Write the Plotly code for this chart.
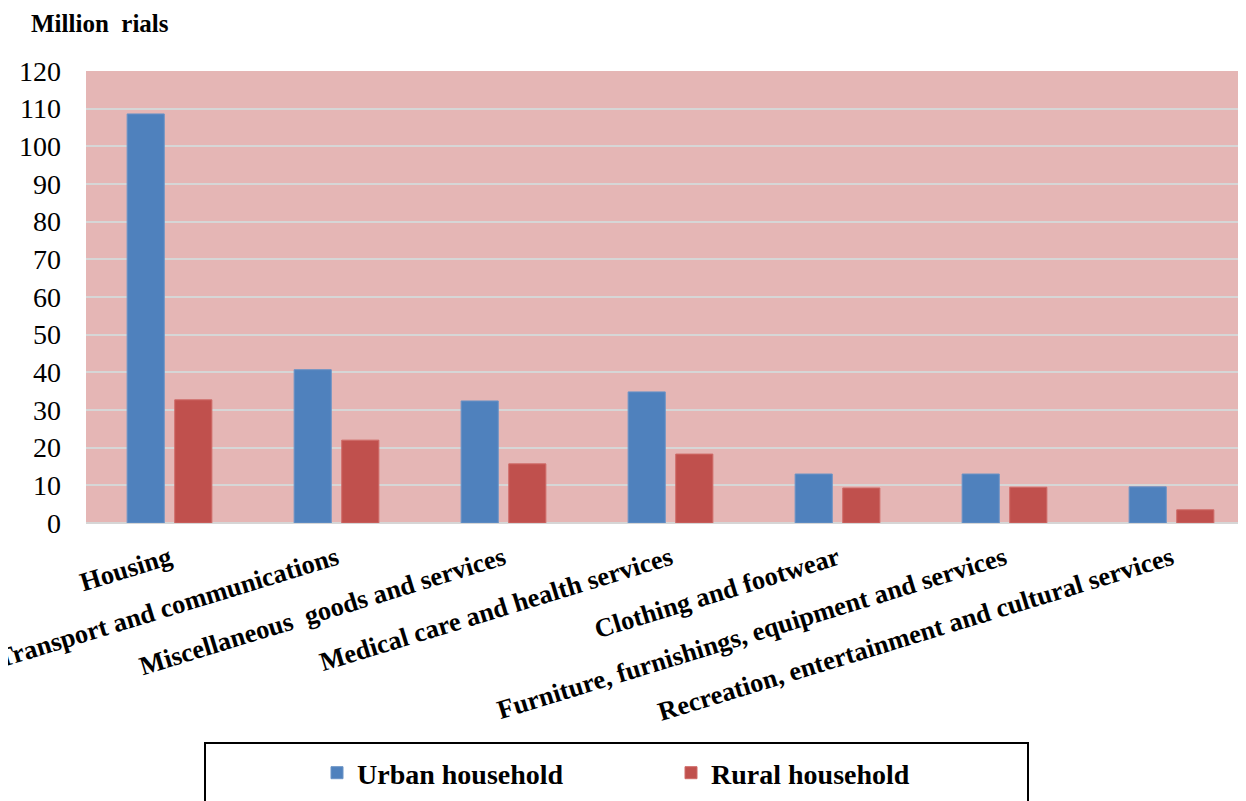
import plotly.graph_objects as go

categories = [
    "Housing",
    "Transport and communications",
    "Miscellaneous  goods and services",
    "Medical care and health services",
    "Clothing and footwear",
    "Furniture, furnishings, equipment and services",
    "Recreation, entertainment and cultural services",
]
urban = [108.6, 40.7, 32.4, 34.8, 13.0, 13.0, 9.6]
rural = [32.7, 22.0, 15.7, 18.3, 9.3, 9.5, 3.5]
series_names = ["Urban household", "Rural household"]
y_ticks = list(range(0, 121, 10))

# page has an 8px body margin; screen coords below
OFF = 8
W, H = 1246 - OFF, 801 - OFF
PL, PR, PT, PB = 86, 1246, 71, 523          # plot edges on screen
ML, MT = PL - OFF, PT - OFF
MR = W - (PR - OFF)
MB = H - (PB - OFF)
PW = PR - PL
PH = PB - PT

def px_x(p):
    return (p - PL) / PW

def px_y(p):
    return (PB - p) / PH

FONT = "Liberation Serif, Times New Roman, serif"

fig = go.Figure()
fig.add_trace(go.Bar(x=categories, y=urban, name=series_names[0],
                     marker=dict(color="#4F81BD", line=dict(width=1, color="#6B93C6"))))
fig.add_trace(go.Bar(x=categories, y=rural, name=series_names[1],
                     marker=dict(color="#C0504D", line=dict(width=1, color="#CF6B68"))))

fig.update_layout(
    width=W, height=H,
    margin=dict(l=ML, r=MR, t=MT, b=MB, autoexpand=False),
    template="none",
    paper_bgcolor="white",
    plot_bgcolor="#E5B6B5",
    barmode="group",
    bargap=0.43,
    bargroupgap=0.22,
    font=dict(family=FONT, color="black"),
    showlegend=True,
    legend=dict(
        orientation="h",
        x=px_x(317), xanchor="left",
        y=px_y(773), yanchor="middle",
        font=dict(family=FONT, size=28, color="black", weight="bold"),
        entrywidth=309,
        bgcolor="rgba(0,0,0,0)",
        borderwidth=0,
        traceorder="normal",
    ),
    xaxis=dict(
        type="category",
        range=[-0.5, -0.5 + PW / 167.0],
        tickangle=-17,
        tickfont=dict(family=FONT, size=26.5, color="black", weight="bold"),
        showgrid=False,
        showline=False,
        zeroline=False,
        ticks="",
        automargin=False,
        ticklabelstandoff=14,
    ),
    yaxis=dict(
        range=[0, 120],
        tickvals=y_ticks,
        tickfont=dict(family=FONT, size=28, color="black"),
        showgrid=True,
        gridcolor="#D6D6D6",
        gridwidth=2,
        zeroline=True,
        zerolinecolor="#D6D6D6",
        zerolinewidth=2,
        showline=False,
        ticks="",
        automargin=False,
        ticklabelstandoff=24,
    ),
    shapes=[
        dict(type="rect", xref="paper", yref="paper",
             x0=px_x(205), x1=px_x(1028), y0=px_y(743), y1=px_y(820),
             line=dict(color="black", width=2), fillcolor="rgba(0,0,0,0)", layer="above"),
    ],
    annotations=[
        dict(text="Million  rials", xref="paper", yref="paper",
             x=px_x(29), y=px_y(24), xanchor="left", yanchor="middle",
             showarrow=False,
             font=dict(family=FONT, size=25, color="black", weight="bold")),
    ],
)

fig.write_html("out.html")
